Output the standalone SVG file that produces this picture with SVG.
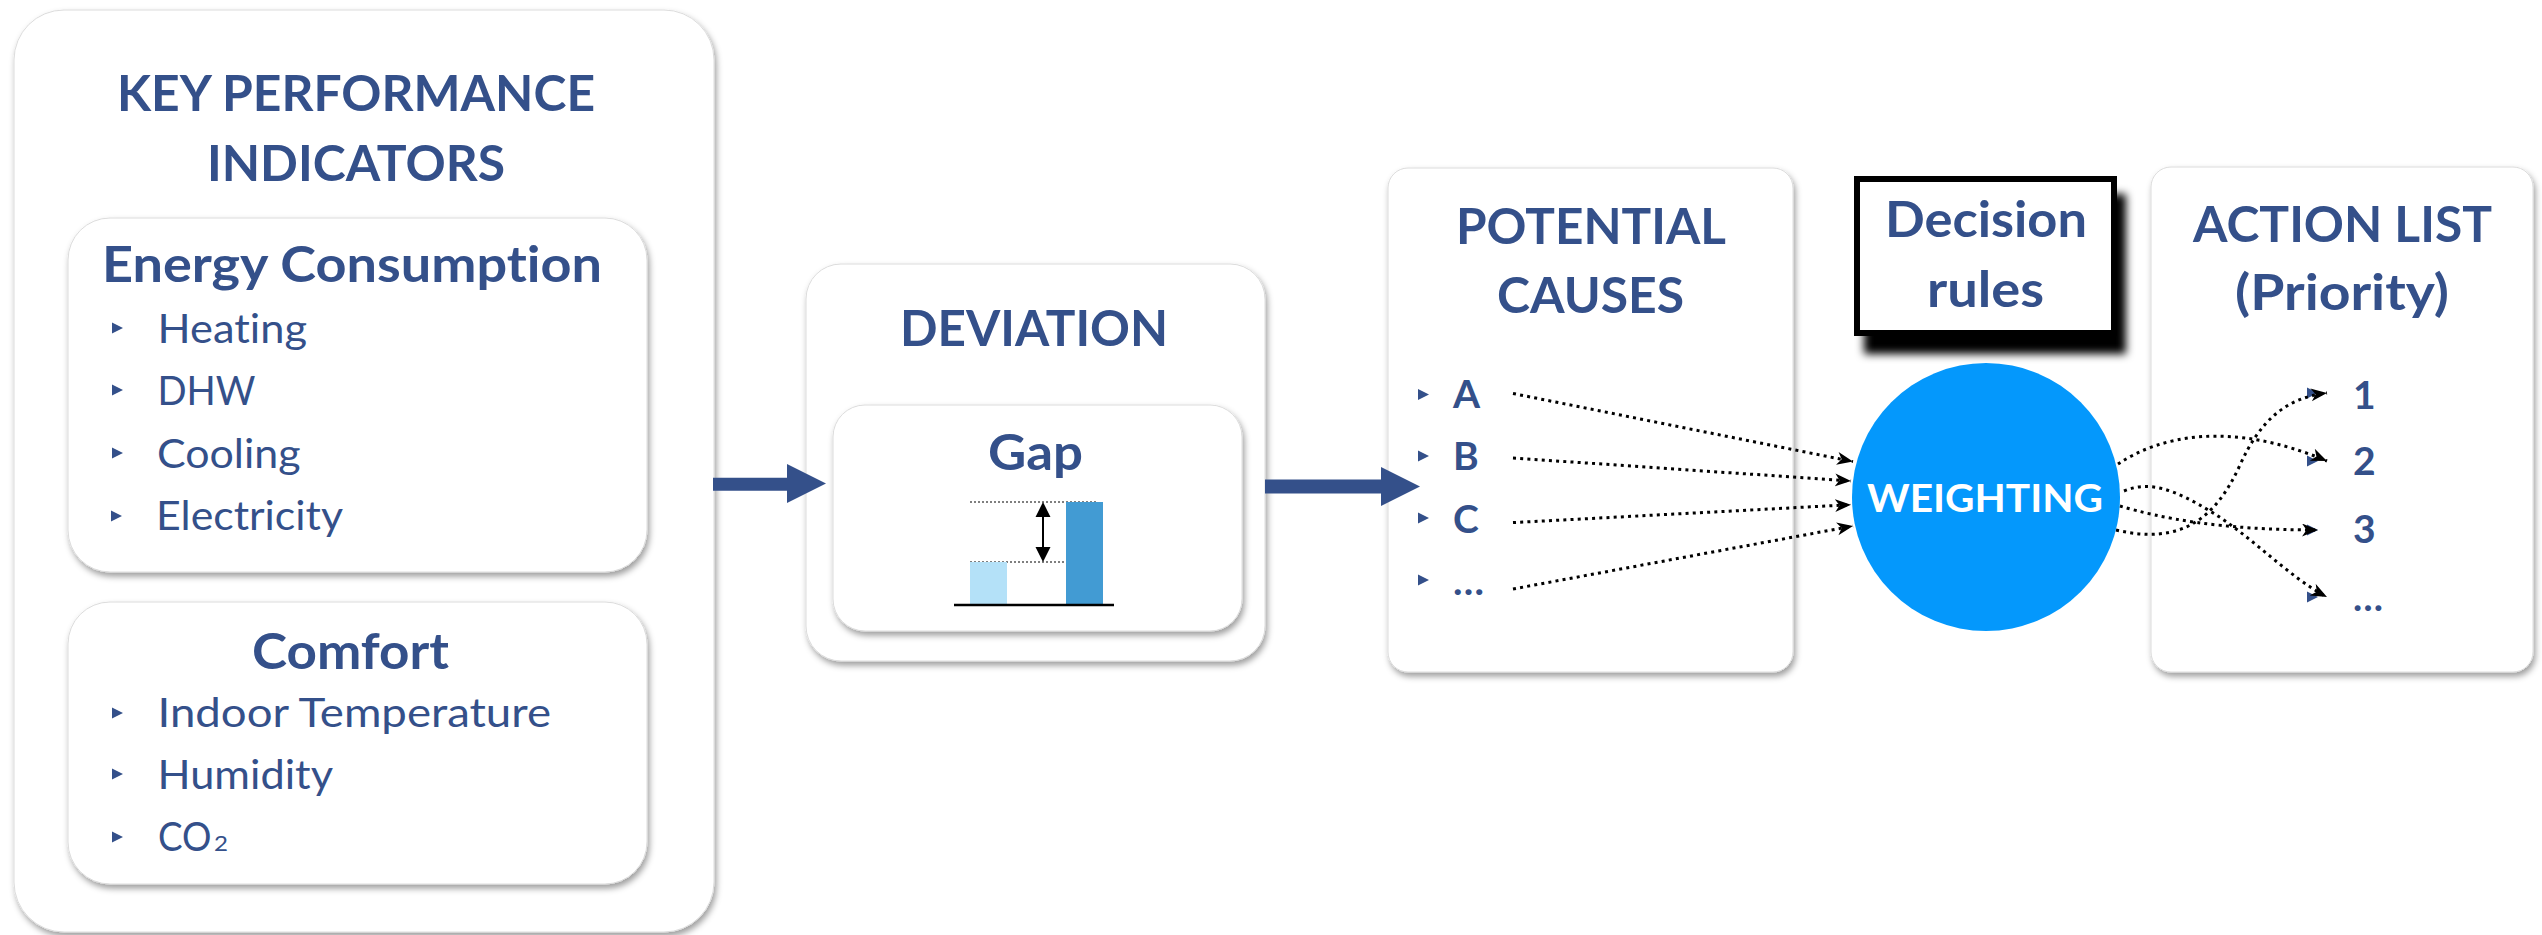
<svg xmlns="http://www.w3.org/2000/svg" xmlns:xlink="http://www.w3.org/1999/xlink" width="2542" height="935" viewBox="0 0 2542 935">
<style>
text{font-variant-ligatures:none;font-feature-settings:"liga" 0,"clig" 0}
.t{font-family:Lato,"Open Sans","Liberation Sans",sans-serif;fill:#34508a}
.h{font-weight:bold;font-size:50px}
.it{font-size:40px}
.bi{font-weight:bold;font-size:39px}
.box{fill:#fff;stroke:#dcdcdc;stroke-width:1;filter:url(#sh)}
.dot{fill:none;stroke:#000;stroke-width:3;stroke-dasharray:3 4.2}
.bul{fill:#34508a}
</style>
<defs>
<filter id="sh" x="-10%" y="-10%" width="125%" height="125%">
<feDropShadow dx="2" dy="4" stdDeviation="3" flood-color="#000" flood-opacity="0.38"/>
</filter>
<filter id="blk" x="-20%" y="-20%" width="140%" height="150%">
<feGaussianBlur stdDeviation="4"/>
</filter>
<marker id="ah" markerUnits="userSpaceOnUse" markerWidth="18" markerHeight="14" refX="16" refY="6.5" orient="auto">
<path d="M0,0 L16,6.5 L0,13 L4.5,6.5Z" fill="#000"/>
</marker>
<path id="bul" d="M0,-5.5 L11,0 L0,5.5Z"/>
</defs>

<g id="kpi">
<rect class="box" x="14" y="10" width="700" height="922" rx="50"/>
<text class="t h" x="117" y="111" textLength="478" lengthAdjust="spacingAndGlyphs">KEY PERFORMANCE</text>
<text class="t h" x="207" y="181" textLength="298" lengthAdjust="spacingAndGlyphs">INDICATORS</text>
</g>

<g id="energy">
<rect class="box" x="68" y="218" width="579" height="354" rx="42"/>
<text class="t h" x="102" y="282" textLength="500" lengthAdjust="spacingAndGlyphs">Energy Consumption</text>
<use href="#bul" class="bul" x="112" y="328"/>
<use href="#bul" class="bul" x="112" y="390"/>
<use href="#bul" class="bul" x="112" y="453"/>
<use href="#bul" class="bul" x="111" y="516"/>
<text class="t it" x="157.5" y="342.5" textLength="149.5" lengthAdjust="spacingAndGlyphs">Heating</text>
<text class="t it" x="157.5" y="405" textLength="98" lengthAdjust="spacingAndGlyphs">DHW</text>
<text class="t it" x="157" y="467.5" textLength="143.5" lengthAdjust="spacingAndGlyphs">Cooling</text>
<text class="t it" x="156" y="530" textLength="187" lengthAdjust="spacingAndGlyphs">Electricity</text>
</g>

<g id="comfort">
<rect class="box" x="68" y="602" width="579" height="282" rx="42"/>
<text class="t h" x="252" y="669" textLength="197" lengthAdjust="spacingAndGlyphs">Comfort</text>
<use href="#bul" class="bul" x="112" y="713"/>
<use href="#bul" class="bul" x="112" y="774"/>
<use href="#bul" class="bul" x="112" y="837"/>
<text class="t it" x="157.5" y="727" textLength="393.5" lengthAdjust="spacingAndGlyphs">Indoor Temperature</text>
<text class="t it" x="157.5" y="789" textLength="175.5" lengthAdjust="spacingAndGlyphs">Humidity</text>
<text class="t it" x="158" y="851" textLength="53.5" lengthAdjust="spacingAndGlyphs">CO</text>
<text class="t" x="214" y="851" font-size="22" textLength="14" lengthAdjust="spacingAndGlyphs">2</text>
</g>

<g id="deviation">
<rect class="box" x="806" y="264" width="459" height="397" rx="35"/>
<text class="t h" x="900" y="346" textLength="268" lengthAdjust="spacingAndGlyphs">DEVIATION</text>
</g>

<g id="gap">
<rect class="box" x="833" y="405" width="409" height="226" rx="32"/>
<text class="t h" x="988" y="470" font-size="51" textLength="95" lengthAdjust="spacingAndGlyphs">Gap</text>
<line x1="970" y1="502" x2="1097" y2="502" stroke="#555" stroke-width="1.5" stroke-dasharray="2 2"/>
<line x1="970" y1="562" x2="1065" y2="562" stroke="#555" stroke-width="1.5" stroke-dasharray="2 2"/>
<rect x="970" y="562" width="37" height="42" fill="#b4e1f8"/>
<rect x="1066" y="502" width="37" height="102" fill="#429bd3"/>
<line x1="954" y1="605" x2="1114" y2="605" stroke="#000" stroke-width="2.5"/>
<line x1="1043" y1="512" x2="1043" y2="552" stroke="#000" stroke-width="2"/>
<path d="M1043,502 L1050.5,517 L1035.5,517Z M1043,562 L1050.5,547 L1035.5,547Z" fill="#000"/>
</g>

<g id="causes">
<rect class="box" x="1388" y="168" width="405" height="504" rx="20"/>
<text class="t h" x="1456" y="244" textLength="270" lengthAdjust="spacingAndGlyphs">POTENTIAL</text>
<text class="t h" x="1497" y="312.5" textLength="187" lengthAdjust="spacingAndGlyphs">CAUSES</text>
<use href="#bul" class="bul" x="1418" y="394.5"/>
<use href="#bul" class="bul" x="1418" y="456"/>
<use href="#bul" class="bul" x="1418" y="518"/>
<use href="#bul" class="bul" x="1418" y="580"/>
<text class="t bi" x="1453" y="408">A</text>
<text class="t bi" x="1453" y="470">B</text>
<text class="t bi" x="1453" y="533">C</text>
<text class="t bi" x="1453" y="595" textLength="31" lengthAdjust="spacingAndGlyphs">…</text>
</g>

<g id="decision">
<rect x="1864" y="194" width="262" height="160" fill="#000" filter="url(#blk)"/>
<rect x="1857" y="179" width="257" height="154" fill="#fff" stroke="#000" stroke-width="6"/>
<text class="t h" x="1885" y="237" font-size="47" textLength="202" lengthAdjust="spacingAndGlyphs">Decision</text>
<text class="t h" x="1927" y="307" font-size="47" textLength="117" lengthAdjust="spacingAndGlyphs">rules</text>
</g>

<g id="weighting">
<circle cx="1986" cy="497" r="134" fill="#0498fc"/>
<text x="1867" y="512" font-family="Lato,'Open Sans',sans-serif" font-weight="bold" font-size="38" fill="#fff" textLength="236" lengthAdjust="spacingAndGlyphs">WEIGHTING</text>
</g>

<g id="actions">
<rect class="box" x="2151" y="167" width="382" height="505" rx="20"/>
<text class="t h" x="2193" y="242" font-size="51" textLength="299" lengthAdjust="spacingAndGlyphs">ACTION LIST</text>
<text class="t h" x="2235" y="310" font-size="51" textLength="214" lengthAdjust="spacingAndGlyphs">(Priority)</text>
<use href="#bul" class="bul" x="2307" y="393"/>
<use href="#bul" class="bul" x="2307" y="461"/>
<use href="#bul" class="bul" x="2307" y="530"/>
<use href="#bul" class="bul" x="2307" y="597"/>
<text class="t bi" x="2353" y="409">1</text>
<text class="t bi" x="2353" y="475">2</text>
<text class="t bi" x="2353" y="543">3</text>
<text class="t bi" x="2353" y="611" textLength="30" lengthAdjust="spacingAndGlyphs">…</text>
</g>

<g id="connectors">
<path d="M713,477.7 L787,477.7 L787,464 L826,483.5 L787,503 L787,490.7 L713,490.7Z" fill="#34508a"/>
<path d="M1265,479.5 L1381,479.5 L1381,467 L1420,486.5 L1381,506 L1381,493.5 L1265,493.5Z" fill="#34508a"/>
<path class="dot" d="M1513,393.5 L1853,461.6" marker-end="url(#ah)"/>
<path class="dot" d="M1513,458 L1851,481" marker-end="url(#ah)"/>
<path class="dot" d="M1513,522.6 L1851,504.7" marker-end="url(#ah)"/>
<path class="dot" d="M1513,589 L1853,526" marker-end="url(#ah)"/>
<path class="dot" d="M2118,464 C2160,436 2230,420 2327,461" marker-end="url(#ah)"/>
<path class="dot" d="M2116,530 C2180,545 2215,520 2240,465 C2260,421 2285,398 2327,393" marker-end="url(#ah)"/>
<path class="dot" d="M2124,491 C2150,480 2175,490 2210,511 C2250,535 2290,578 2327,597" marker-end="url(#ah)"/>
<path class="dot" d="M2120,506 C2160,518 2220,530 2318,530" marker-end="url(#ah)"/>
</g>
</svg>
